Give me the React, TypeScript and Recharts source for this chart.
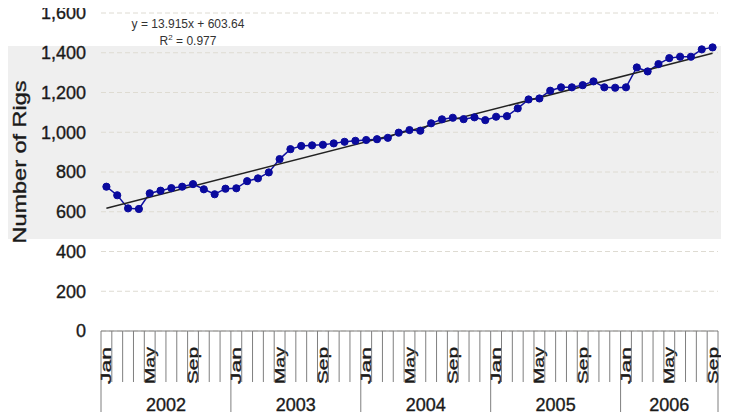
import { LineChart, Line, XAxis, YAxis, CartesianGrid } from 'recharts';

const years = [2002, 2003, 2004, 2005, 2006];
const monthNames = ['Jan', 'Feb', 'Mar', 'Apr', 'May', 'Jun', 'Jul', 'Aug', 'Sep', 'Oct', 'Nov', 'Dec'];
const shownMonths = ['Jan', 'May', 'Sep'];

const rigs2002 = [726, 683, 617, 614, 693, 706, 719, 726, 739, 713, 688, 716];
const rigs2003 = [718, 754, 768, 798, 865, 915, 931, 934, 937, 944, 952, 957];
const rigs2004 = [961, 965, 972, 998, 1011, 1008, 1045, 1065, 1073, 1066, 1075, 1061];
const rigs2005 = [1078, 1081, 1120, 1165, 1170, 1209, 1226, 1226, 1237, 1256, 1226, 1224];
const rigs2006 = [1226, 1326, 1306, 1343, 1373, 1380, 1380, 1417, 1427];
const rigsByYear = [rigs2002, rigs2003, rigs2004, rigs2005, rigs2006];

// linear trend (y = 13.915x + 603.64) at first and last month
const trendEnds = [618, 1397];

const yTicks = [0, 200, 400, 600, 800, 1000, 1200, 1400, 1600];

const data = rigsByYear.flatMap((vals, yi) =>
  vals.map((v, mi) => ({ key: `${monthNames[mi]} ${years[yi]}`, month: monthNames[mi], year: years[yi], rigs: v }))
);
data.forEach((d: any, i) => {
  d.trend = i === 0 ? trendEnds[0] : i === data.length - 1 ? trendEnds[1] : null;
});

const W = 729;
const H = 420;
const M = { top: 13, right: 11, bottom: 0, left: 0 };
const Y_AXIS_W = 101;
const X_AXIS_H = 89;
const PLOT_W = W - M.left - M.right - Y_AXIS_W;
const AXIS_Y = H - X_AXIS_H;
const BAND = PLOT_W / data.length;
const gridGray = '#7f7f7f';
const ink = '#1a1a1a';
const font = '"Liberation Sans", Arial, sans-serif';
// the scanned labels look a bit heavier than plain regular weight
const heavy = { stroke: ink, strokeWidth: 0.35 };

function MonthTick(props: any) {
  const { x, payload } = props;
  const i = payload.index;
  const d = data[i];
  if (!d) return null;
  const left = x - BAND / 2;
  const isYearStart = d.month === 'Jan' || i === 0;
  const isLast = i === data.length - 1;
  let yearLabel = null;
  if (isYearStart) {
    const n = data.filter((e) => e.year === d.year).length;
    yearLabel = (
      <text x={left + (n * BAND) / 2} y={411} textAnchor="middle" fontSize={18} fill={ink} fontFamily={font} {...heavy}>
        {d.year}
      </text>
    );
  }
  return (
    <g>
      <line x1={left} y1={AXIS_Y} x2={left} y2={isYearStart ? 418 : 382} stroke={gridGray} strokeWidth={1} />
      {isLast && <line x1={x + BAND / 2} y1={AXIS_Y} x2={x + BAND / 2} y2={418} stroke={gridGray} strokeWidth={1} />}
      {shownMonths.includes(d.month) && (
        <text
          x={x}
          y={384}
          dy="0.36em"
          transform={`rotate(-90, ${x}, 384)`}
          textAnchor="start"
          fontSize={14}
          fill={ink}
          fontFamily={font}
          textLength={37}
          lengthAdjust="spacingAndGlyphs"
          {...heavy}
        >
          {d.month}
        </text>
      )}
      {yearLabel}
    </g>
  );
}

export default function App() {
  return (
    <div style={{ position: 'relative', width: W, height: H, margin: -8, background: '#fff' }}>
      <div style={{ position: 'absolute', left: 0, top: 46, width: W, height: 193, background: '#efefef' }} />
      <div style={{ position: 'absolute', left: 0, top: 0 }}>
        <LineChart width={W} height={H} data={data} margin={M}>
          <CartesianGrid vertical={false} stroke="#dedbd2" strokeDasharray="5 3" />
          <XAxis
            dataKey="key"
            interval={0}
            height={X_AXIS_H}
            padding={{ left: BAND / 2, right: BAND / 2 }}
            tickLine={false}
            axisLine={{ stroke: gridGray }}
            tick={<MonthTick />}
          />
          <YAxis
            domain={[0, 1600]}
            ticks={yTicks}
            width={Y_AXIS_W}
            axisLine={false}
            tickLine={false}
            tickSize={0}
            tickMargin={15}
            tickFormatter={(v: number) => v.toLocaleString('en-US')}
            tick={{ fontSize: 18, fill: ink, fontFamily: font, ...heavy }}
          />
          <Line
            dataKey="rigs"
            stroke="#1010a0"
            strokeWidth={1.5}
            dot={{ r: 3.6, fill: '#0a0a9e', stroke: '#0a0a9e', strokeWidth: 1 }}
            isAnimationActive={false}
          />
          <Line
            dataKey="trend"
            stroke="#222"
            strokeWidth={1.5}
            dot={false}
            connectNulls
            isAnimationActive={false}
          />
        </LineChart>
      </div>
      <svg width={W} height={H} style={{ position: 'absolute', left: 0, top: 0, pointerEvents: 'none' }}>
        <text
          x={20}
          y={162}
          dy="0.36em"
          transform="rotate(-90, 20, 162)"
          textAnchor="middle"
          fontSize={18}
          fill={ink}
          fontFamily={font}
          textLength={163}
          lengthAdjust="spacingAndGlyphs"
          {...heavy}
        >
          Number of Rigs
        </text>
        <text x={188} y={28} textAnchor="middle" fontSize={12} fill="#333" fontFamily={font}>
          y = 13.915x + 603.64
        </text>
        <text x={188} y={45} textAnchor="middle" fontSize={12} fill="#333" fontFamily={font}>
          R<tspan fontSize={8} dy={-5}>2</tspan>
          <tspan dy={5}> = 0.977</tspan>
        </text>
      </svg>
    </div>
  );
}
